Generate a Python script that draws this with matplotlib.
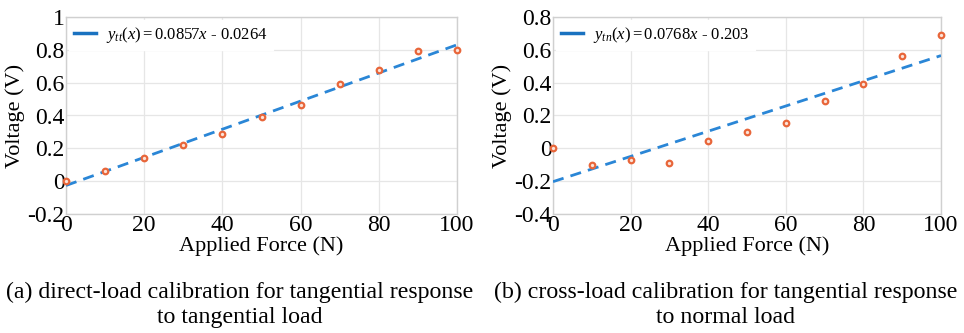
import numpy as np
import matplotlib
matplotlib.use("Agg")
import matplotlib.pyplot as plt

plt.rcParams['font.family'] = ['Liberation Serif', 'DejaVu Serif']
plt.rcParams['mathtext.fontset'] = 'custom'
plt.rcParams['mathtext.rm'] = 'Liberation Serif'
plt.rcParams['mathtext.it'] = 'Liberation Serif:italic'

# applied force (N) and measured voltage (V)
force = [0, 10, 20, 30, 40, 50, 60, 70, 80, 90, 100]
volt_direct = [0.0, 0.063, 0.141, 0.220, 0.287, 0.392, 0.465, 0.592, 0.675, 0.790, 0.800]
volt_cross = [0.0, -0.102, -0.073, -0.087, 0.043, 0.100, 0.156, 0.289, 0.392, 0.563, 0.691]

# linear fits, slope per 10 N step
fit_direct = (0.0857, -0.0264)
fit_cross = (0.0768, -0.203)

labels = [r'$y_{tt}(x) = 0.0857x$ - 0.0264', r'$y_{tn}(x) = 0.0768x$ - 0.203']
captions = ['(a) direct-load calibration for tangential response\nto tangential load',
            '(b) cross-load calibration for tangential response\nto normal load']
ylims = [(-0.2, 1.0), (-0.4, 0.8)]
yticks = [[-0.2, 0, 0.2, 0.4, 0.6, 0.8, 1.0], [-0.4, -0.2, 0, 0.2, 0.4, 0.6, 0.8]]
yticklabels = [['-0.2', '0', '0.2', '0.4', '0.6', '0.8', '1'],
               ['-0.4', '-0.2', '0', '0.2', '0.4', '0.6', '0.8']]

W, H = 964, 333
fig = plt.figure(figsize=(W / 100, H / 100), dpi=100)

boxes = [(66, 17, 391, 197), (553, 17, 388, 197)]
cap_x = [240, 726]

for i, (volt, fit) in enumerate([(volt_direct, fit_direct), (volt_cross, fit_cross)]):
    x0, y0, w, h = boxes[i]
    ax = fig.add_axes([x0 / W, 1 - (y0 + h) / H, w / W, h / H])
    xs = np.array(force, dtype=float)
    line, = ax.plot(xs, fit[0] * xs / 10 + fit[1], ls=(0, (4, 2.6)), lw=2.0,
                    color='#2a86d6', label=labels[i], zorder=3)
    ax.plot(force, volt, 'o', ms=4.0, mfc='#fbe3d8', mec='#e8663a', mew=1.6,
            zorder=4, clip_on=False)

    ax.set_xlim(0, 100)
    ax.set_ylim(*ylims[i])
    ax.set_xticks([0, 20, 40, 60, 80, 100])
    ax.set_yticks(yticks[i])
    ax.set_yticklabels(yticklabels[i])
    ax.tick_params(length=0, labelsize=17, pad=1)
    ax.grid(True, color='#e6e6e6', lw=0.9)
    ax.set_axisbelow(True)
    for s in ax.spines.values():
        s.set_color('#d0d0d0')
        s.set_linewidth(1.0)

    ax.set_xlabel('Applied Force (N)', fontsize=16, labelpad=0)
    ax.set_ylabel('Voltage (V)', fontsize=16, labelpad=2)

    leg = ax.legend(handles=[line], loc='upper left', fontsize=12,
                    handlelength=1.3, handletextpad=0.6, borderaxespad=0.2,
                    frameon=True, fancybox=False, borderpad=0.3)
    leg.get_frame().set_edgecolor('white')
    leg.get_frame().set_facecolor('white')
    leg.get_frame().set_alpha(1.0)
    leg.get_lines()[0].set_linestyle('-')
    leg.get_lines()[0].set_linewidth(2.5)
    leg.get_lines()[0].set_color('#1a72c0')

    fig.text(cap_x[i] / W, 1 - 305 / H, captions[i], ha='center', va='center',
             fontsize=17.2, linespacing=1.2)

fig.savefig('out.png', dpi=100)
